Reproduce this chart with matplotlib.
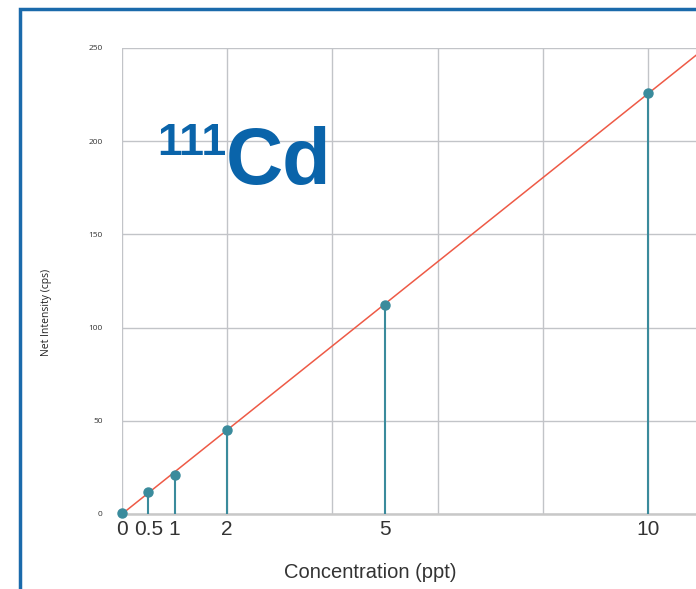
import matplotlib.pyplot as plt
import matplotlib.patches as patches

conc = [0, 0.5, 1, 2, 5, 10]
intensity = [0.3, 11.8, 20.9, 45, 112, 226]
x_ticks = [0, 0.5, 1, 2, 5, 10]
x_labels = ['0', '0.5', '1', '2', '5', '10']
y_ticks = [0, 50, 100, 150, 200, 250]
slope = 22.55

plt.rcParams['font.family'] = ['Liberation Sans', 'DejaVu Sans']

fig = plt.figure(figsize=(6.96, 5.89), dpi=100)
fig.patches.append(patches.Rectangle((20 / 696, -0.1), 2, (589 - 9) / 589 + 0.1,
                                     transform=fig.transFigure, fill=False,
                                     edgecolor='#1a6aab', linewidth=2.5))

ax = fig.add_axes([122 / 696, 75 / 589, 574 / 696, 466 / 589])
xmax = 574 / 52.6
ax.set_xlim(0, xmax)
ax.set_ylim(0, 250)

# grid
for gx in [0, 2, 4, 6, 8, 10]:
    ax.axvline(gx, color='#c2c4c8', lw=1, zorder=0)
for gy in y_ticks:
    ax.axhline(gy, color='#c2c4c8', lw=1, zorder=0)

for s in ['top', 'right', 'left']:
    ax.spines[s].set_visible(False)
ax.spines['bottom'].set_color('#c8c8c8')
ax.spines['bottom'].set_linewidth(1.8)

# fit line
ax.plot([0, xmax], [0, slope * xmax], color='#ee5a46', lw=1.1, zorder=2)

# stems and points
ax.vlines(conc, 0, intensity, color='#3a8b9c', lw=1.5, zorder=3)
ax.plot(conc, intensity, 'o', color='#3a8b9c', markersize=6.5, zorder=4, clip_on=False)

ax.set_xticks(x_ticks)
ax.set_xticklabels(x_labels, fontsize=15, color='#333333')
ax.set_yticks(y_ticks)
ax.set_yticklabels([str(v) for v in y_ticks], fontsize=6, color='#333333',
                   family=['Open Sans', 'DejaVu Sans'])
ax.tick_params(axis='x', length=0, pad=4)
ax.tick_params(axis='y', length=0, pad=14)

fig.text(47 / 696, 1 - 312 / 589, 'Net Intensity (cps)', rotation=90, fontsize=7.5,
         color='#222222', ha='center', va='center', family=['Open Sans', 'DejaVu Sans'])
fig.text(370 / 696, 1 - 572 / 589, 'Concentration (ppt)', fontsize=14.5,
         color='#333333', ha='center', va='center')

fig.text(157 / 696, 1 - 155 / 589, '111', fontsize=32, fontweight='bold',
         color='#0a64aa', ha='left', va='baseline')
fig.text(226 / 696, 1 - 184 / 589, 'Cd', fontsize=57, fontweight='bold',
         color='#0a64aa', ha='left', va='baseline')

plt.savefig('out.png', dpi=100)
plt.close(fig)
